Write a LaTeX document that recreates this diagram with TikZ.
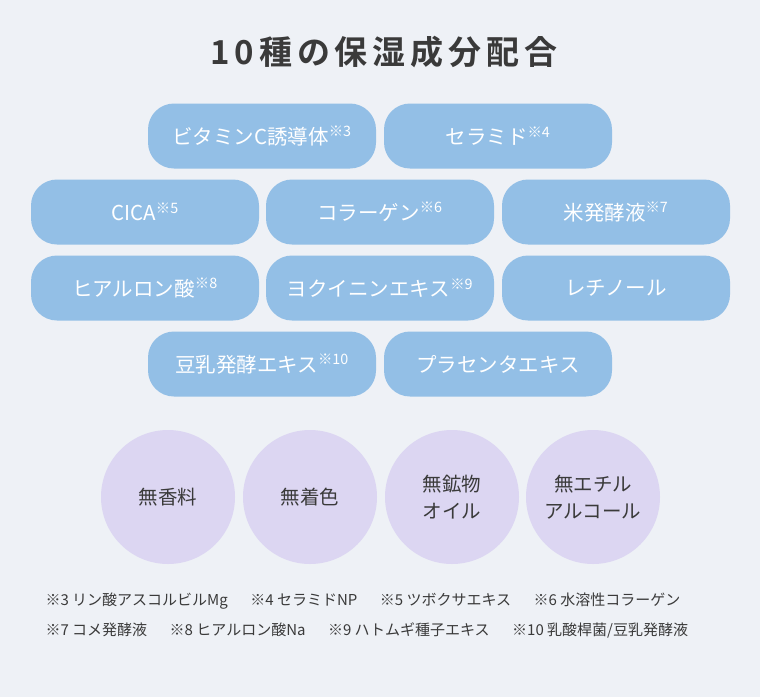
\documentclass[tikz,border=0pt]{standalone}
\usepackage{fontspec}
\setmainfont{Noto Sans CJK JP}
\newfontfamily\titlefont[LetterSpace=15]{Noto Sans CJK JP Bold}
\usetikzlibrary{positioning}
\definecolor{bgcol}{HTML}{EEF1F6}
\definecolor{pillcol}{HTML}{93BFE6}
\definecolor{circcol}{HTML}{DCD6F2}
\definecolor{textcol}{HTML}{3A3A3A}
\tikzset{pill/.style={rectangle, rounded corners=26pt, fill=pillcol, text=white,
    minimum width=228pt, minimum height=65pt, font=\fontsize{20.5}{23}\selectfont},
  bubble/.style={circle, fill=circcol, text=textcol, minimum size=134pt, align=center,
    font=\fontsize{19.5}{27}\selectfont},
  note/.style={text=textcol, anchor=west, font=\fontsize{15}{17}\selectfont}}
\newcommand{\mk}[1]{\textsuperscript{※#1}}
\newcommand{\gap}{\hspace{1.5em}}
\begin{document}
\begin{tikzpicture}[x=1pt,y=-1pt]
\fill[bgcol] (0,0) rectangle (760,697);
\useasboundingbox (0,0) rectangle (760,697);

% title
\node (title) [text=textcol, font=\titlefont\fontsize{33}{36}\selectfont] at (384,52) {10種の保湿成分配合};

% ingredients
\node (vitc) [pill] at (262,136) {ビタミンC誘導体\mk{3}};
\node (cera) [pill] at (498,136) {セラミド\mk{4}};
\node (cica) [pill] at (145,212) {CICA\mk{5}};
\node (coll) [pill] at (380,212) {コラーゲン\mk{6}};
\node (rice) [pill] at (616,212) {米発酵液\mk{7}};
\node (hyal) [pill] at (145,288) {ヒアルロン酸\mk{8}};
\node (yoku) [pill] at (380,288) {ヨクイニンエキス\mk{9}};
\node (reti) [pill] at (616,288) {レチノール};
\node (soy) [pill] at (262,364) {豆乳発酵エキス\mk{10}};
\node (plac) [pill] at (498,364) {プラセンタエキス};

% free-from
\node (nofrag) [bubble] at (168,497) {無香料};
\node (nocol) [bubble] at (310,497) {無着色};
\node (nooil) [bubble] at (452,497) {無鉱物\\オイル};
\node (noalc) [bubble] at (593,497) {無エチル\\アルコール};

% notes
\node (note1) [note] at (42,601) {※3 リン酸アスコルビルMg\gap ※4 セラミドNP\gap ※5 ツボクサエキス\gap ※6 水溶性コラーゲン};
\node (note2) [note] at (42,630) {※7 コメ発酵液\gap ※8 ヒアルロン酸Na\gap ※9 ハトムギ種子エキス\gap ※10 乳酸桿菌/豆乳発酵液};
\end{tikzpicture}
\end{document}
